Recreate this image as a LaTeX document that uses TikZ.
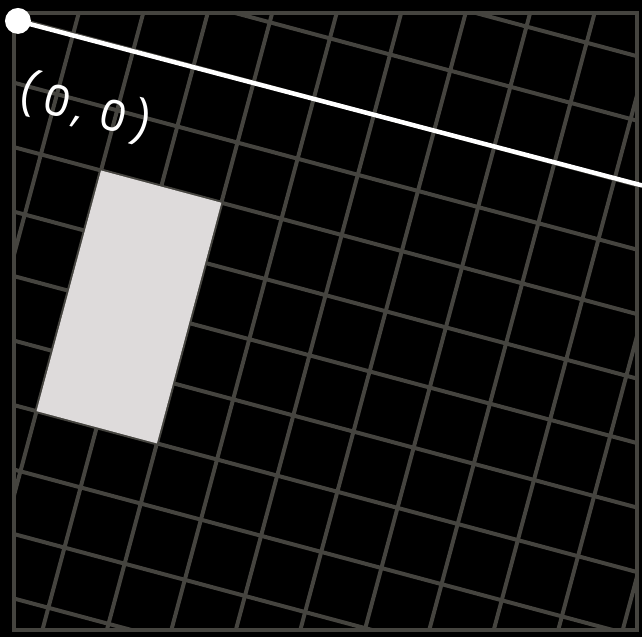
\documentclass[tikz,border=0pt]{standalone}
\usepackage{fontspec}
\newfontfamily\handfont[LetterSpace=14]{Poppins}
\usetikzlibrary{positioning}
\definecolor{cgrid}{HTML}{45443F}
\definecolor{cpaper}{HTML}{DEDBDB}
\tikzset{
  gridline/.style={draw=cgrid, line width=4pt, line cap=round},
  sheet/.style={fill=cpaper},
  axis/.style={draw=white, line width=4.5pt, line cap=round},
  dot/.style={circle, fill=white, inner sep=0pt, minimum size=26pt},
  coordlabel/.style={text=white, font=\handfont\fontsize{43}{45}\selectfont, rotate=-15, inner sep=0pt},
}
\begin{document}
\begin{tikzpicture}[x=1pt, y=-1pt]
  \fill[black] (0,0) rectangle (644,639);
  \begin{scope}
    \clip (14,13) rectangle (639,632);
    \begin{scope}[shift={(13,18)}, rotate=-15]
      \foreach \i in {-6,...,12} \draw[gridline] (\i*62.5,-300) -- (\i*62.5,900);
      \foreach \j in {-6,...,14} \draw[gridline] (-300,\j*62.5) -- (900,\j*62.5);
      \fill[sheet] (125,125) rectangle (250,375);
    \end{scope}
  \end{scope}
  \draw[gridline] (14,13) rectangle (639,632);
  \node[dot] (origin) at (18,21) {};
  \coordinate (xend) at (644,186);
  \draw[axis] (origin.center) -- (xend);
  \node[coordlabel] (originlabel) at (86,108) {(0, 0)};
\end{tikzpicture}
\end{document}
